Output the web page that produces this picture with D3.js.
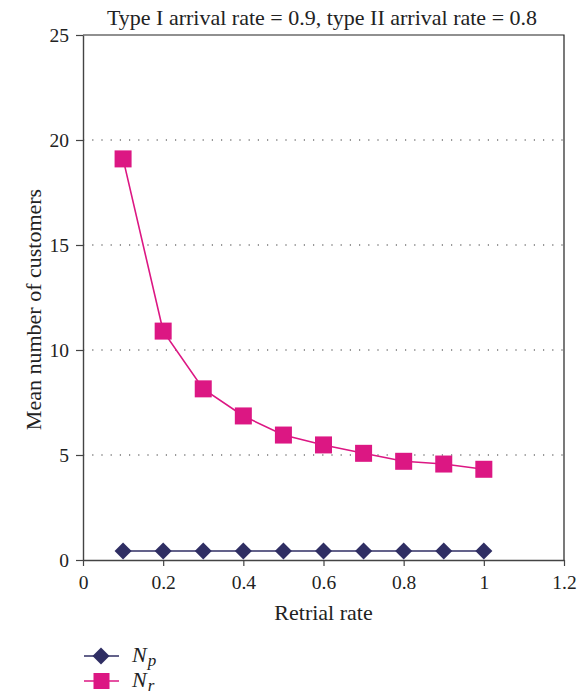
<!DOCTYPE html>
<html>
<head>
<meta charset="utf-8">
<script src="https://cdn.jsdelivr.net/npm/d3@7"></script>
<style>
  html, body { margin: 0; padding: 0; background: #fff; }
  svg { display: block; }
  text { font-family: "Liberation Serif", "DejaVu Serif", serif; fill: #222; }
</style>
</head>
<body>
<svg id="chart" width="581" height="696"></svg>
<script>
// Retrial rates on the horizontal axis
const retrialRates = [0.1, 0.2, 0.3, 0.4, 0.5, 0.6, 0.7, 0.8, 0.9, 1.0];
// Mean number of type I customers (N_p)
const npValues = [0.43, 0.43, 0.43, 0.43, 0.43, 0.43, 0.43, 0.43, 0.43, 0.43];
// Mean number of customers in orbit (N_r)
const nrValues = [19.1, 10.9, 8.15, 6.86, 5.95, 5.48, 5.08, 4.7, 4.57, 4.32];
const xTicks = [0, 0.2, 0.4, 0.6, 0.8, 1, 1.2];
const yTicks = [0, 5, 10, 15, 20, 25];
const titleText = "Type I arrival rate = 0.9, type II arrival rate = 0.8";

const FONT = '"Liberation Serif", "DejaVu Serif", serif';
const svg = d3.select("#chart");
const margin = { left: 83, right: 17, top: 35, bottom: 136 };
const W = 581, H = 696;
const x = d3.scaleLinear().domain([0, 1.2]).range([margin.left, W - margin.right]);
const y = d3.scaleLinear().domain([0, 25]).range([H - margin.bottom, margin.top]);

const navy = "#2f2e63";
const pink = "#dc1783";

// dotted gridlines
svg.append("g")
  .selectAll("line")
  .data(yTicks.filter(t => t > 0 && t < 25))
  .join("line")
  .attr("x1", x(0)).attr("x2", x(1.2))
  .attr("y1", d => y(d)).attr("y2", d => y(d))
  .attr("stroke", "#333").attr("stroke-width", 1.2)
  .attr("stroke-dasharray", "1.2,8");

// frame (top and right)
svg.append("path")
  .attr("d", `M${x(0)},${y(25)}H${x(1.2)}V${y(0)}`)
  .attr("fill", "none").attr("stroke", "#222").attr("stroke-width", 1.2);

// axes
const xAxis = svg.append("g")
  .attr("transform", `translate(0,${y(0)})`)
  .call(d3.axisBottom(x).tickValues(xTicks).tickSize(6).tickSizeOuter(0)
    .tickFormat(d => d3.format("")(+d.toFixed(1))));
const yAxis = svg.append("g")
  .attr("transform", `translate(${x(0)},0)`)
  .call(d3.axisLeft(y).tickValues(yTicks).tickSize(7).tickSizeOuter(0));
[xAxis, yAxis].forEach(g => {
  g.select(".domain").attr("stroke", "#444").attr("stroke-width", 1.4);
  g.selectAll(".tick line").attr("stroke", "#444").attr("stroke-width", 1.2);
  g.selectAll("text").attr("font-size", 19.5).attr("fill", "#222")
    .style("font-family", FONT);
});
xAxis.selectAll("text").attr("dy", "1.0em");
yAxis.selectAll("text").attr("dx", "-4");

// series lines
const line = (vals) => d3.line().x((d, i) => x(retrialRates[i])).y(d => y(d))(vals);
svg.append("path").attr("d", line(npValues))
  .attr("fill", "none").attr("stroke", navy).attr("stroke-width", 1.6);
svg.append("path").attr("d", line(nrValues))
  .attr("fill", "none").attr("stroke", pink).attr("stroke-width", 1.6);

// markers
const diamond = d3.symbol().type(d3.symbolSquare).size(145);
svg.append("g").selectAll("path")
  .data(npValues)
  .join("path")
  .attr("d", diamond)
  .attr("transform", (d, i) => `translate(${x(retrialRates[i])},${y(d)}) rotate(45)`)
  .attr("fill", navy);

svg.append("g").selectAll("rect")
  .data(nrValues)
  .join("rect")
  .attr("x", (d, i) => x(retrialRates[i]) - 8.5)
  .attr("y", d => y(d) - 8.5)
  .attr("width", 17).attr("height", 17)
  .attr("fill", pink);

// title and axis labels
svg.append("text")
  .attr("x", 322).attr("y", 25)
  .attr("text-anchor", "middle").attr("font-size", 22)
  .text(titleText);
svg.append("text")
  .attr("x", x(0.6)).attr("y", 620)
  .attr("text-anchor", "middle").attr("font-size", 22)
  .text("Retrial rate");
svg.append("text")
  .attr("transform", `translate(41,${y(12.5) + 12}) rotate(-90)`)
  .attr("text-anchor", "middle").attr("font-size", 22)
  .text("Mean number of customers");

// legend
const legend = [
  { name: "N", sub: "p", color: navy, mark: "diamond", y: 656 },
  { name: "N", sub: "r", color: pink, mark: "square", y: 681 }
];
const lg = svg.append("g");
legend.forEach(item => {
  lg.append("line")
    .attr("x1", 84).attr("x2", 119)
    .attr("y1", item.y).attr("y2", item.y)
    .attr("stroke", item.color).attr("stroke-width", 1.6);
  if (item.mark === "diamond") {
    lg.append("path").attr("d", diamond)
      .attr("transform", `translate(101,${item.y}) rotate(45)`)
      .attr("fill", item.color);
  } else {
    lg.append("rect").attr("x", 93.5).attr("y", item.y - 8)
      .attr("width", 16).attr("height", 16).attr("fill", item.color);
  }
  const t = lg.append("text").attr("x", 132).attr("y", item.y + 6)
    .attr("font-size", 22).attr("font-style", "italic");
  t.append("tspan").text(item.name);
  t.append("tspan").attr("font-size", 17).attr("dx", 1).attr("dy", 4).text(item.sub);
});
</script>
</body>
</html>
